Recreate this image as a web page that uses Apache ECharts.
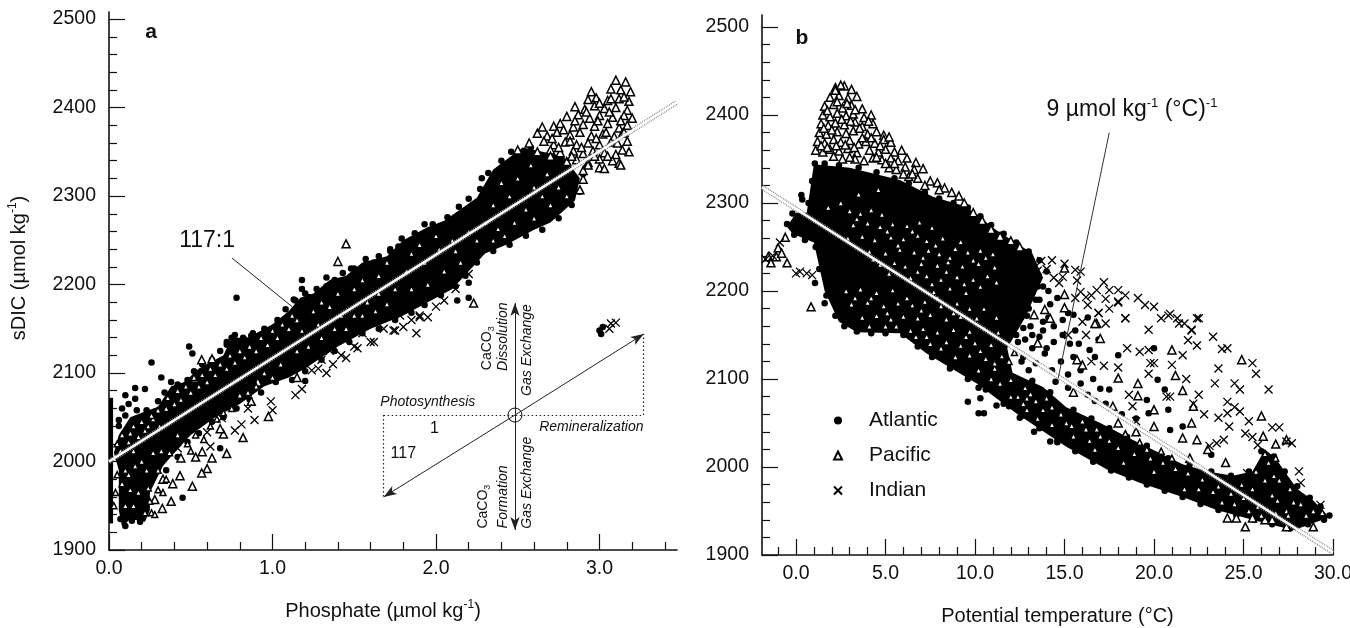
<!DOCTYPE html>
<html><head><meta charset="utf-8">
<script src="https://cdn.jsdelivr.net/npm/echarts@6/dist/echarts.min.js"></script>
<style>html,body{margin:0;background:#fff}#c{width:1350px;height:628px}</style></head>
<body><div id="c"></div>
<script>
// ---------- axis ticks ----------
const aXMajor=[0,1,2,3];
const aXMinor=[0.2,0.4,0.6,0.8,1.2,1.4,1.6,1.8,2.2,2.4,2.6,2.8,3.2,3.4];
const aYMajor=[1900,2000,2100,2200,2300,2400,2500];
const aYMinor=[1920,1940,1960,1980,2020,2040,2060,2080,2120,2140,2160,2180,2220,2240,2260,2280,2320,2340,2360,2380,2420,2440,2460,2480];
const bXMajor=[0,5,10,15,20,25,30];
const bXMinor=[-1,1,2,3,4,6,7,8,9,11,12,13,14,16,17,18,19,21,22,23,24,26,27,28,29];
// ---------- regression lines ----------
const aLine=[[0,2000],[3.474,2406]];
const bLine=[[-1.9,2318],[30,1903]];
// ---------- panel a: dense mass outlines ----------
const aStrip=[[0,1930],[0.025,1930],[0.025,2072],[0,2072]];
const aBody=[[0.03,2010],[0.06,2030],[0.13,2050],[0.2,2055],[0.3,2062],[0.38,2085],[0.46,2090],[0.55,2105],[0.7,2120],[0.75,2140],[0.85,2140],[1.0,2155],[1.1,2170],[1.17,2185],[1.25,2190],[1.35,2205],[1.45,2210],[1.55,2225],[1.7,2232],[1.8,2250],[1.95,2265],[2.05,2272],[2.25,2298],[2.35,2330],[2.53,2355],[2.78,2345],[2.88,2320],[2.85,2295],[2.7,2270],[2.6,2262],[2.43,2245],[2.3,2235],[2.2,2215],[2.1,2195],[1.95,2180],[1.8,2165],[1.6,2150],[1.4,2130],[1.2,2105],[1.1,2095],[0.95,2085],[0.8,2065],[0.65,2050],[0.5,2030],[0.4,2010],[0.33,1995],[0.25,1965],[0.25,1945],[0.22,1932],[0.13,1935],[0.08,1926],[0.06,1945],[0.06,1990]];
// ---------- panel a: points ----------
const aAtlantic=[[0.78,2185],[0.26,2112],[0.49,2130],[0.75,2140],[0.51,2122],[0.68,2015],[0.45,1959],[1.2,2091],[0.32,2095],[0.16,2083],[0.22,2082],[0.06,2047],[0.16,2071],[1.93,2268],[1.88,2252],[1.81,2246],[1.77,2243],[1.72,2238],[1.62,2225],[1.18,2205],[1.18,2195],[1.13,2183],[1.22,2186],[1.22,2180],[1.33,2198],[1.48,2218],[2.13,2182],[2.2,2202],[2.2,2185],[2.28,2320],[3.0,2148],[3.02,2152],[3.01,2144],[0.1,2075],[0.12,2065],[0.08,2060],[0.83,2138],[0.87,2142],[0.72,2132],
[0.06,2040],[0.1,2052],[0.17,2058],[0.23,2058],[0.3,2068],[0.34,2078],[0.38,2090],[0.42,2087],[0.48,2092],[0.52,2102],[0.57,2110],[0.63,2115],[0.68,2125],[0.72,2135],[0.77,2143],[0.82,2140],[0.88,2145],[0.95,2150],[1.03,2160],[1.08,2172],[1.14,2182],[1.2,2190],[1.27,2195],[1.33,2208],[1.38,2205],[1.43,2213],[1.5,2218],[1.57,2229],[1.65,2232],[1.72,2240],[1.79,2252],[1.87,2258],[1.98,2268],[2.07,2276],[2.14,2288],[2.2,2297],[2.27,2308],[2.32,2326],[2.4,2340],[2.46,2350],[2.58,2355],
[0.35,1990],[0.42,2005],[0.48,2022],[0.55,2032],[0.63,2045],[0.7,2050],[0.78,2060],[0.86,2070],[0.93,2078],[1.02,2090],[1.12,2092],[1.2,2102],[1.3,2115],[1.38,2125],[1.47,2135],[1.55,2145],[1.65,2150],[1.75,2160],[1.85,2168],[1.93,2177],[2.03,2188],[2.12,2198],[2.18,2210],[2.25,2225],[2.35,2238],[2.45,2245],[2.55,2255],[2.65,2262],[2.75,2275],[2.83,2290],[2.88,2305],[2.9,2325],[0.1,1927],[0.14,1933],[0.19,1932],[0.07,1935],[0.09,1945]];
const aPacific=[[3.10,2431],[3.16,2429],[2.95,2418],[3.07,2421],[3.13,2420],[3.19,2418],[2.93,2409],[2.98,2411],[3.05,2408],[3.12,2410],[3.18,2407],[2.85,2401],[2.91,2398],[2.97,2402],[3.03,2399],[3.10,2400],[3.17,2397],[2.80,2390],[2.87,2392],[2.94,2388],[3.0,2391],[3.08,2389],[3.15,2391],[3.2,2388],[2.72,2379],[2.76,2382],[2.84,2378],[2.9,2381],[2.97,2379],[3.05,2382],[3.12,2377],[3.17,2380],[2.62,2371],[2.68,2368],[2.74,2372],[2.82,2369],[2.88,2372],[2.95,2368],[3.02,2370],[3.09,2367],[3.14,2371],[2.57,2360],[2.66,2362],[2.72,2358],[2.79,2361],[2.86,2358],[2.93,2360],[3.0,2358],[3.07,2361],[3.17,2362],[2.5,2352],[2.62,2350],[2.7,2352],[2.76,2349],[2.84,2351],[2.9,2348],[2.96,2351],[3.03,2349],[3.1,2347],[3.18,2350],[2.8,2339],[2.86,2341],[2.93,2338],[3.0,2342],[3.08,2340],[3.12,2337],[2.9,2329],[3.0,2332],[3.03,2331],[2.9,2319],[2.88,2307],[2.93,2335],[3.13,2335],
[2.65,2378],[2.71,2365],[2.78,2375],[2.85,2385],[2.92,2395],[2.99,2385],[3.06,2395],[3.13,2385],[3.04,2372],[3.11,2360],[2.98,2365],[2.89,2355],[2.82,2362],[2.75,2355],[3.05,2345],[2.97,2345],[3.14,2352],[3.07,2410],[3.15,2412],[3.0,2405],[3.15,2372],[2.83,2345],[2.7,2345],
[0.72,2009],[0.82,2027],[0.70,2031],[0.68,2037],[0.975,2051],[0.87,2068],[0.63,2004],[0.60,1992],[0.567,1987],[0.51,1972],[0.434,1984],[0.38,1955],[0.28,1957],[0.326,1947],[0.39,1975],[0.33,1980],[0.44,2004],[0.53,2005],[0.57,2011],[0.567,2115],[0.63,2116],[0.526,2094],[1.15,2095],[0.91,2090],[1.45,2246],[1.40,2226],[2.23,2179]];
const aPacificDense=[[2.6,2310],[2.65,2300],[2.55,2285],[2.7,2290],[2.48,2270],[2.6,2275],[2.42,2255],[2.38,2263],[2.35,2290],[2.45,2300],[2.5,2320],[2.58,2335],[2.68,2325],[2.75,2310],[2.8,2300],[2.4,2315],
[0.05,2020],[0.08,2030],[0.07,2012],[0.12,2022],[0.15,2040],[0.13,2032],[0.18,2028],[0.2,2045],[0.24,2040],[0.22,2035],[0.27,2048],[0.26,2052],[0.3,2058],[0.31,2040],[0.35,2060],[0.36,2072],[0.4,2065],[0.42,2080],[0.44,2070],[0.47,2085],[0.5,2078],[0.52,2095],[0.55,2085],[0.57,2098],[0.6,2090],[0.62,2105],[0.65,2098],[0.68,2110],[0.72,2105],[0.74,2120],[0.77,2112],[0.8,2125],[0.83,2118],[0.86,2130],[0.9,2125],[0.93,2140],[0.97,2132],[1.0,2148],[1.03,2140],[1.06,2155],[1.1,2150],[1.12,2165],[1.15,2160],
[0.04,1965],[0.03,1950],[0.05,1985],[0.1,1990],[0.13,1968],[0.08,1975],[0.22,1942],[0.26,1942],[0.28,1940],[0.25,1955],[0.24,1970],[0.3,1968],[0.33,1965],[0.3,1990],[0.35,1980],[0.1,1950],[0.15,1950],[0.18,1965],[0.12,1985],[0.16,1995],[0.2,2000],[0.23,1990],[0.27,2010],[0.32,2012],[0.15,2012],
[1.25,2170],[1.3,2180],[1.4,2190],[1.35,2175],[1.5,2195],[1.55,2205],[1.65,2210],[1.7,2225],[1.85,2235],[1.9,2245],[2.0,2255],[1.45,2150],[1.5,2165],[1.7,2178],[1.85,2195],[1.95,2200],[2.05,2215],[2.15,2225],[2.2,2260],[2.1,2250],[1.3,2140],[1.42,2165],[1.58,2180],[1.63,2170],[1.75,2195],[1.82,2215],[1.93,2225],[2.02,2240],[2.12,2238],[2.25,2250],[2.3,2270],[2.35,2250],[1.38,2150],[1.22,2130],[1.15,2125],[1.28,2155],[1.18,2148],[1.55,2165],[1.65,2190],
[0.37,2010],[0.42,2030],[0.48,2020],[0.5,2012],[0.53,2030],[0.58,2025],[0.62,2040],[0.66,2048],[0.7,2055],[0.75,2060],[0.8,2075],[0.85,2078],[0.95,2100],[1.05,2110],[1.0,2095],[0.9,2085]];
const aIndian=[[0.77,2035],[0.89,2047],[0.99,2068],[1.0,2058],[1.24,2103],[1.14,2075],[1.18,2082],[1.19,2111],[0.62,2017],[0.42,2015],[0.6,2033],[0.69,2049],[0.81,2042],[0.85,2060],[1.88,2145],[1.8,2152],[1.74,2148],[1.62,2135],[1.52,2128],[1.45,2117],[2.05,2182],[1.9,2163],[1.95,2163],[1.3,2115],[1.35,2125],[1.42,2120],[1.5,2130],[1.6,2135],[1.68,2150],[1.75,2148],[1.85,2160],[1.9,2165],[2.0,2175],[1.28,2105],[1.55,2145],[1.78,2165],[3.07,2156],[3.1,2157],[3.06,2150],[1.33,2100],[1.37,2110],[1.12,2122],[1.25,2130],[1.58,2158],[1.7,2165],[2.12,2195],[2.2,2212]];
// ---------- panel a: inset diagram ----------
const insetCentre=[2.483,2052.5];
const insetUp=[2.483,2179];
const insetDown=[2.483,1922.6];
const insetUR=[3.27,2144];
const insetLL=[1.68,1960];
const aLeader=[[0.752,2230],[1.12,2175]];
// ---------- panel b: dense mass outline ----------
const bBody=[[0.6,2289],[1.0,2344],[3,2340],[5.8,2326],[7.65,2307],[9.5,2296],[11.2,2269],[13.2,2243],[13.8,2215],[12.8,2170],[11.8,2135],[12.1,2107],[13.8,2091],[15.1,2068],[17,2050],[18.8,2031],[21.6,2003],[23,1995],[24.4,1990],[25.5,1995],[26.2,2020],[26.8,2010],[27.3,1995],[28,1975],[28.9,1962],[29.8,1943],[27.8,1928],[25.5,1940],[23.5,1951],[21.6,1966],[19.2,1982],[17.4,1997],[15.1,2023],[12.3,2061],[10.1,2095],[8.2,2118],[7.3,2129],[5.8,2152],[3.4,2153],[2.4,2165],[1.6,2200],[1.0,2255],[-0.2,2265],[-0.5,2273],[0,2289]];
// ---------- panel b: points ----------
const bAtlantic=[[9.6,2074],[10.3,2078],[11.2,2070],[10.2,2061],[10.5,2061],[12.5,2056],[13.3,2040],[14.2,2029],[14.6,2028],[11.9,2069],[10.2,2090],[16.6,2100],[17.5,2088],[18,2127],[17,2089],[20,2135],[20.2,2099],[20.6,2088],[20.8,2065],[20.9,2042],[21.6,2046],[19.6,2076],[19.7,2061],[23.2,2014],[24.5,1985],[11.8,2152],[12.4,2142],[11.1,2154],[12.7,2158],[13.9,2129],[14.4,2142],[13.8,2155],[11.8,2163],[14.9,2167],[15.3,2140],[16.4,2133],[15.5,2173],[0.3,2309],[0.35,2304],[1.06,2209],[1.6,2186],[13,2180],[13.6,2190],[14.2,2185],[12.7,2125],[13.4,2118],[14.3,2110],[15.2,2105],[15.9,2095],[16.3,2170],[14.8,2120],[15.6,2155],[14.1,2170],[13.2,2135],
[12.3,2205],[12.9,2195],[13.5,2205],[14.1,2200],[14.6,2192],[15.2,2175],[14.4,2160],[13.1,2160],[13.6,2148],[14.9,2150],[15.5,2125],[14,2135],[13,2110],[14.5,2097],[15.2,2090],[15.9,2110],[16.3,2082],[17.3,2072],[16.7,2075],[18.2,2060],[19,2055],[13.2,2150],[13.8,2165],[12.8,2145],[15.8,2140],[16.9,2145],[16.7,2125],
[0.7,2300],[0.9,2325],[1.05,2345],[1.6,2345],[2.4,2343],[3.5,2340],[4.5,2335],[5.5,2328],[6.3,2322],[7.2,2312],[8,2305],[8.8,2300],[9.6,2295],[10.3,2285],[10.9,2275],[11.6,2265],[12.3,2255],[13,2245],[13.6,2235],[14,2222],[13.8,2205],[13.4,2190],[12.9,2172],[12.3,2150],[12.6,2120],[13.2,2098],[14.2,2085],[15.5,2065],[16.5,2055],[17.5,2044],[18.5,2034],[19.6,2024],[20.8,2010],[22,2003],[23.2,1995],[24.3,1990],[25.3,1995],[26,2018],[26.7,2012],[27.3,1995],[28,1978],[28.7,1965],[29.3,1955],[29.8,1945],
[29.5,1940],[28.6,1935],[27.6,1930],[26.6,1935],[25.6,1940],[24.6,1945],[23.6,1951],[22.6,1958],[21.6,1966],[20.6,1973],[19.6,1980],[18.6,1988],[17.6,1996],[16.6,2006],[15.6,2018],[14.6,2030],[13.6,2044],[12.6,2058],[11.6,2072],[10.6,2088],[9.6,2100],[8.6,2112],[7.6,2125],[6.8,2137],[6,2150],[5,2152],[4.2,2152],[3.4,2154],[2.7,2160],[2.2,2172],[1.7,2195],[1.3,2225],[1.1,2250],[0.5,2258],[-0.1,2264],[-0.5,2276],[-0.2,2288]];
const bPacific=[[2.2,2431],[2.7,2433],[3.1,2429],[1.9,2420],[2.4,2422],[2.9,2419],[3.4,2421],[1.6,2410],[2.1,2412],[2.6,2408],[3.1,2411],[3.7,2407],[1.5,2400],[1.9,2398],[2.3,2402],[2.8,2399],[3.2,2401],[3.8,2397],[4.2,2400],[1.4,2390],[1.8,2388],[2.2,2391],[2.7,2389],[3.3,2392],[3.7,2387],[4.3,2390],[1.3,2380],[1.7,2378],[2.3,2381],[2.8,2379],[3.2,2382],[4.0,2378],[4.5,2381],[4.9,2377],[1.2,2370],[1.6,2368],[2.1,2372],[2.5,2369],[3.0,2371],[3.5,2367],[3.9,2370],[4.4,2368],[4.9,2372],[5.3,2369],[1.1,2360],[1.5,2358],[1.9,2361],[2.4,2359],[2.9,2362],[3.4,2357],[4.1,2360],[4.6,2358],[5.0,2361],[5.5,2358],[5.9,2360],[3.3,2350],[3.8,2348],[4.3,2351],[4.8,2349],[5.3,2351],[5.7,2348],[6.2,2351],[6.7,2346],[5.2,2340],[5.6,2338],[6.1,2341],[6.6,2338],[7.1,2339],[6.3,2330],[6.8,2328],[7.5,2325],[7.9,2323],[8.3,2317],[8.7,2312],[9.1,2308],[9.4,2300],[9.9,2289],[10.4,2280],[10.9,2270],[11.4,2262],[12,2257],[12.5,2250],
[1.75,2405],[2.3,2415],[2.85,2413],[3.3,2406],[1.55,2385],[2.0,2383],[2.55,2395],[3.05,2393],[3.55,2385],[4.05,2393],[1.4,2365],[1.75,2363],[2.25,2365],[2.75,2366],[3.25,2363],[3.7,2374],[4.2,2374],[4.7,2365],[5.2,2375],[2.1,2353],[2.6,2350],[3.0,2352],[2.2,2428],[2.5,2434],[4.5,2352],[5.0,2345],[5.5,2345],[6.0,2333],[6.5,2333],[7.2,2320],[8.0,2315],
[21,2133],[24.9,2122],[21.2,2104],[19.1,2095],[19.1,2081],[21.6,2087],[22.2,2069],[22.1,2050],[22.4,2031],[26,2058],[20,2046],[17.7,2069],[26.1,2035],[26.8,2026],[27.4,2031],[21.6,2033],[16,2116],[15.7,2122],[16.8,2163],[13.5,2141],[17,2146],[20,2065],[18.0,2101],[24.1,1942],[25.1,1932],[26.2,1940],[27.4,1932],[28.9,1932],[26.6,1940],[24.6,1942],[25.5,1942],[15,2226],[15,2196],[13.3,2173],[14.2,2169],[16.7,2163],[13.9,2179],[15,2181],[-1.55,2239],[-1,2249],[-0.6,2261],[-1.1,2239],[-1.4,2232],[-0.5,2232],[0.84,2182],[-0.8,2243],[15.5,2085],[18,2050],[23,2020],[24,2005],[19,2040],[22,2010]];
const bPacificDense=[[3.5,2310],[2.5,2300],[1.8,2295],[4.6,2315],[3.0,2291],[3.6,2288],[4.2,2292],[4.8,2287],[3.2,2275],[4.0,2277],[4.7,2273],[5.4,2276],[6.2,2274],[6.9,2278],[7.6,2272],[2.9,2260],[3.7,2262],[4.4,2258],[5.3,2261],[6.0,2259],[6.8,2263],[7.3,2257],[8.2,2260],[4.1,2245],[5.0,2243],[5.8,2247],[6.6,2244],[7.4,2246],[8.0,2242],[8.9,2248],[9.6,2244],[10.3,2246],[11,2242],[4.7,2230],[5.5,2232],[6.1,2228],[7.0,2231],[7.9,2229],[8.5,2233],[9.3,2228],[10.2,2231],[11.1,2227],[6.4,2215],[7.3,2217],[8.1,2213],[9.0,2216],[9.9,2213],[10.7,2217],[2.8,2200],[3.6,2202],[4.5,2198],[5.4,2201],[7.7,2199],[8.6,2203],[9.5,2198],[3.1,2185],[4.0,2187],[4.9,2183],[5.7,2186],[6.5,2184],[7.2,2188],[8.1,2183],[9.0,2186],[3.7,2170],[4.5,2172],[5.3,2168],[6.0,2171],[6.8,2169],[7.5,2173],[8.4,2168],[9.2,2171],[10.1,2169],[6.4,2155],[7.1,2157],[7.9,2153],[8.8,2156],[9.7,2154],[10.5,2158],[11.3,2153],[7.5,2140],[8.4,2142],[9.2,2138],[10,2141],[10.9,2139],[8.9,2125],[9.7,2127],[10.6,2123],[11.5,2126],[10.2,2110],[11.1,2112],[12,2099],[11.4,2095],[12.4,2080],[13.1,2083],[14,2078],[14.8,2060],[13.8,2065],[15.4,2047],[16.2,2043],[17,2035],[16.4,2030],[18,2022],[18.9,2015],[19.6,2020],[20.5,2005],[21,2010],[21.9,1993],[22.7,1986],[23.6,1978],[24.3,1970],[25,1965],[25.8,1955],[26.6,1968],[27.4,1950],[28.2,1958],[25.7,1995],[26.4,2005],[27,1985],[26.2,2015],[26.8,2010],
[3.4,2282],[5.1,2268],[5.7,2252],[6.5,2268],[7.1,2238],[7.8,2252],[8.6,2238],[9.2,2256],[9.9,2235],[10.6,2238],[4.3,2236],[5.2,2220],[6.8,2222],[7.6,2208],[8.4,2222],[9.4,2208],[10.3,2205],[11.2,2210],[3.3,2192],[4.2,2192],[5.1,2175],[6.2,2192],[7.0,2178],[7.9,2192],[8.8,2175],[9.7,2180],[10.5,2180],[11.2,2170],[4.1,2160],[5.0,2160],[5.6,2160],[6.7,2148],[7.3,2148],[8.1,2135],[9.5,2148],[10.3,2132],[11.1,2118],[11.9,2120],[12.2,2130],[10.9,2100],[12.8,2090],[12.0,2080],[12.9,2078],
[12.7,2072],[13.4,2075],[14.3,2068],[15.1,2050],[16,2052],[16.8,2043],[17.5,2030],[18.4,2038],[19.2,2028],[19.8,2010],[20.4,2018],[21.2,1998],[21.7,1975],[22.5,1975],[23.3,1972],[23.8,1960],[24.5,1958],[25.3,1950],[26,1945],[26.8,1948],[27.5,1945],[28.5,1945],[28.9,1950],[29.4,1948],[25.5,1975],[26.2,1985],[26.9,1962],[26.7,1990],[27.6,1975],[27.8,1960],[24.9,1980],[20,1995],[18.3,2005],[16.7,2020],[15.5,2035],[14.3,2048],[13.5,2055],[12.9,2065]];
const bIndian=[[22.4,2169],[22.1,2156],[21.4,2163],[20.9,2174],[20.4,2169],[19.7,2156],[18,2187],[17.3,2163],[16.9,2175],[18.4,2169],[18.5,2135],[19.2,2131],[19.7,2133],[22.4,2138],[21.9,2144],[23.3,2148],[23.8,2134],[24.1,2135],[21.6,2127],[23.6,2112],[25.5,2118],[25.7,2106],[26.4,2088],[24.5,2095],[24.8,2088],[23.4,2095],[21.8,2100],[19.8,2118],[20,2118],[21,2116],[19.7,2106],[18,2113],[22.5,2082],[22.2,2072],[24.1,2074],[24.5,2068],[24.8,2063],[22.8,2060],[23.6,2056],[24.1,2061],[25.3,2052],[24.2,2046],[26.6,2045],[27,2045],[25.1,2038],[25.5,2034],[25.8,2025],[27.4,2029],[27.7,2027],[23.1,2024],[23.5,2027],[23.9,2031],[28.1,1995],[28.2,1982],[19,2052],[18.6,2082],[18.8,2069],[20.7,2080],[20.9,2080],[25.2,1993],[29.3,1957],[17.2,2210],[16.8,2201],[16.5,2195],[17.5,2201],[18,2201],[18.4,2195],[17.3,2191],[18,2188],[19.1,2192],[19.5,2184],[20,2182],[20.8,2172],[21.3,2169],[21.7,2163],[22.1,2155],[22.5,2169],[18.4,2169],[17.5,2180],[16.9,2175],[15.9,2199],[16.2,2193],[16.3,2184],[13.7,2234],[14.3,2235],[15,2231],[15.6,2224],[15.9,2222],[13.5,2223],[14,2225],[13,2216],[14.4,2215],[14.9,2216],[15.7,2212],[14.7,2209],[0.22,2222],[0.6,2220],[0,2220],[0.9,2218],[-1.3,2240],[-0.9,2255],[-1.7,2236],[15.2,2150],[16.2,2150],[16.5,2120],[17.2,2115],[15.6,2192],[16,2165]];
// ---------- annotations, placed in each panel's data units ----------
const aNotes=[
 {at:[0.257,2485],text:'a',fs:21,fw:'bold'},
 {at:[0.6,2250],text:'117:1',fs:23},
 {at:[1.95,2067],text:'Photosynthesis',fs:14,it:1},
 {at:[2.95,2039],text:'Remineralization',fs:14,it:1},
 {at:[1.99,2037],text:'1',fs:16},
 {at:[1.80,2009],text:'117',fs:16},
 {at:[2.31,2128],text:'{n|CaCO}{u|3}',rot:90,fs:14},
 {at:[2.41,2141],text:'Dissolution',rot:90,fs:14,it:1},
 {at:[2.56,2126],text:'Gas Exchange',rot:90,fs:14,it:1},
 {at:[2.29,1949],text:'{n|CaCO}{u|3}',rot:90,fs:14},
 {at:[2.41,1960],text:'Formation',rot:90,fs:14,it:1},
 {at:[2.56,1976],text:'Gas Exchange',rot:90,fs:14,it:1}
];
const bNotes=[
 {at:[0.335,2487],text:'b',fs:21,fw:'bold'},
 {at:[18.77,2406],text:'{t|9 µmol kg}{s|-1}{t| (°C)}{s|-1}',fs:23}
];
const bLeader=[[17.5,2380],[14.65,2101]];

const INK='#111', FONT='"Liberation Sans",Arial,sans-serif';
const PANELS=[{left:109,top:12,width:568,height:538},{left:762,top:15,width:571,height:540}];
const crossPath='path://M0,0L10,10M10,0L0,10';

function axisPair(type,grid,min,max,major,minor,fmt,name,nameGap,padding){
  const pos=type==='x'?'bottom':'left';
  return [{
    type:'value',gridIndex:grid,position:pos,min,max,
    name,nameLocation:'middle',nameGap,nameRotate:type==='y'?90:0,
    nameTextStyle:{padding,fontFamily:FONT,color:INK,fontSize:20,
      rich:{t:{fontFamily:FONT,color:INK,fontSize:20,lineHeight:24},s:{fontFamily:FONT,color:INK,fontSize:12,lineHeight:24,verticalAlign:'top'}}},
    axisLine:{show:true,onZero:false,lineStyle:{color:INK,width:1.6}},
    axisTick:{show:true,inside:true,length:16,lineStyle:{color:INK,width:1.2},customValues:major},
    minorTick:{show:false},splitLine:{show:false},
    axisLabel:{show:true,customValues:major,formatter:fmt,fontFamily:FONT,color:INK,fontSize:19.5,margin:type==='x'?9:13}
  },{
    type:'value',gridIndex:grid,position:pos,min,max,
    axisLine:{show:false,onZero:false},
    axisTick:{show:true,inside:true,length:8,lineStyle:{color:INK,width:1.2},customValues:minor},
    minorTick:{show:false},splitLine:{show:false},axisLabel:{show:false}
  }];
}
const fix1=v=>v.toFixed(1), int=v=>String(v);
const xAxis=[
 ...axisPair('x',0,0,3.474,aXMajor,aXMinor,fix1,'{t|Phosphate (µmol kg}{s|-1}{t|)}',49,[0,20,0,0]),
 ...axisPair('x',1,-1.9,30,bXMajor,bXMinor,fix1,'Potential temperature (°C)',51,[0,0,0,20])
];
const yAxis=[
 ...axisPair('y',0,1900,2508,aYMajor,aYMinor,int,'{t|sDIC (µmol kg}{s|-1}{t|)}',78,[0,0,0,26]),
 ...axisPair('y',1,1900,2513.6,aYMajor,aYMinor,int,'',0,0)
];

function mass(points,ax,name){
  return {type:'custom',name,xAxisIndex:ax,yAxisIndex:ax,silent:true,clip:true,data:[[points[0][0],points[0][1]]],
    renderItem:(p,api)=>({type:'polygon',shape:{points:points.map(d=>api.coord(d))},style:{fill:'#000'}})};
}
const dots=(name,data,ax)=>({type:'scatter',name,data,xAxisIndex:ax,yAxisIndex:ax,symbol:'circle',symbolSize:6.5,itemStyle:{color:'#000',opacity:1},silent:true});
const tris=(name,data,ax,size)=>({type:'scatter',name,data,xAxisIndex:ax,yAxisIndex:ax,symbol:'triangle',symbolSize:size,itemStyle:{color:'#fff',borderColor:'#000',borderWidth:1.5,opacity:1},silent:true});
const cross=(name,data,ax)=>({type:'scatter',name,data,xAxisIndex:ax,yAxisIndex:ax,symbol:crossPath,symbolSize:8,itemStyle:{color:'transparent',borderColor:'#000',borderWidth:1.3,opacity:1},silent:true});
function slopeLine(data,ax){
  return [
   {type:'line',data,xAxisIndex:ax,yAxisIndex:ax,symbol:'none',silent:true,lineStyle:{color:'#8a8a8a',width:5,type:[1,1]}},
   {type:'line',data,xAxisIndex:ax,yAxisIndex:ax,symbol:'none',silent:true,lineStyle:{color:'#fff',width:2.4}}
  ];
}
function segs(data,ax,width,type,symbol,color){
  return {type:'line',data:[],xAxisIndex:ax,yAxisIndex:ax,silent:true,
    markLine:{silent:true,animation:false,symbol,symbolSize:[7,13],precision:6,label:{show:false},emphasis:{disabled:true},
      lineStyle:{color:color||'#222',width,type,opacity:1},
      data:data.map(s=>[{coord:s[0]},{coord:s[1]}])}};
}
function notes(list,ax){
  return {type:'scatter',xAxisIndex:ax,yAxisIndex:ax,symbolSize:0,silent:true,itemStyle:{opacity:1},
    data:list.map(n=>({value:n.at,label:{show:true,position:'inside',formatter:n.text,rotate:n.rot||0,opacity:1,
      fontFamily:FONT,color:INK,fontSize:n.fs,fontWeight:n.fw||'normal',fontStyle:n.it?'italic':'normal',
      rich:{n:{fontFamily:FONT,color:INK,fontSize:n.fs},u:{fontFamily:FONT,color:INK,fontSize:9,verticalAlign:'bottom',lineHeight:18},
            t:{fontFamily:FONT,color:INK,fontSize:n.fs},s:{fontFamily:FONT,color:INK,fontSize:13,verticalAlign:'top',lineHeight:26}}}}))};
}

const series=[
 mass(aStrip,0,'_s'),mass(aBody,0,'_a'),
 dots('Atlantic',aAtlantic,0),tris('Pacific',aPacific,0,8),tris('Pacific',aPacificDense,0,6),cross('Indian',aIndian,0),
 ...slopeLine(aLine,0),
 segs([aLeader],0,1,'solid','none'),
 segs([[insetCentre,insetUp],[insetCentre,insetDown],[insetCentre,insetUR],[insetCentre,insetLL]],0,1,'solid',['none','arrow']),
 segs([[[insetLL[0],insetCentre[1]],[insetUR[0],insetCentre[1]]],[[insetLL[0],insetCentre[1]],insetLL],[[insetUR[0],insetCentre[1]],insetUR]],0,1.2,[1.5,2.5],'none'),
 {type:'scatter',xAxisIndex:0,yAxisIndex:0,data:[insetCentre],symbol:'circle',symbolSize:14,silent:true,z:4,itemStyle:{color:'#fff',borderColor:'#000',borderWidth:1,opacity:1}},
 notes(aNotes,0),
 mass(bBody,2,'_b'),
 dots('Atlantic',bAtlantic,2),tris('Pacific',bPacific,2,8),tris('Pacific',bPacificDense,2,6),cross('Indian',bIndian,2),
 ...slopeLine(bLine,2),
 segs([bLeader],2,1,'solid','none','#333'),
 notes(bNotes,2)
];
const chart=echarts.init(document.getElementById('c'),null,{renderer:'canvas'});
chart.setOption({
 animation:false,backgroundColor:'#fff',
 grid:PANELS.map(p=>({...p,containLabel:false,show:false,outerBoundsMode:'none'})),
 xAxis,yAxis,series,tooltip:{show:false},
 legend:{data:['Atlantic','Pacific','Indian'],orient:'vertical',left:828,top:405,itemWidth:8,itemHeight:8,itemGap:14,selectedMode:false,
  textStyle:{fontFamily:FONT,color:INK,fontSize:21,padding:[0,0,0,22]}}
});
</script></body></html>
